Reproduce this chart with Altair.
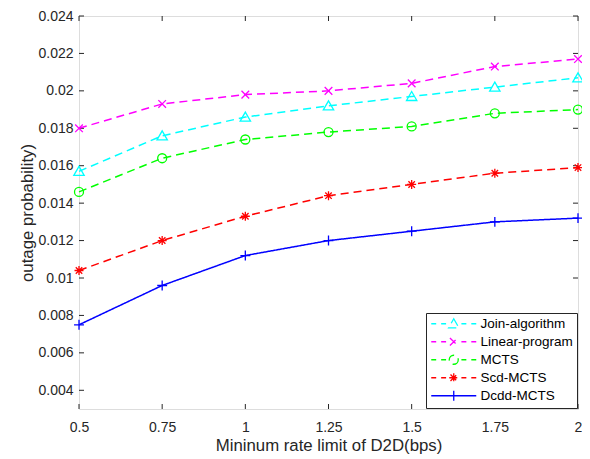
import altair as alt
import pandas as pd

# ---- data ----
rate = [0.5, 0.75, 1.0, 1.25, 1.5, 1.75, 2.0]
series_names = ["Join-algorithm", "Linear-program", "MCTS", "Scd-MCTS", "Dcdd-MCTS"]
join_algorithm = [0.0157, 0.0176, 0.0186, 0.0192, 0.0197, 0.0202, 0.0207]
linear_program = [0.0180, 0.0193, 0.0198, 0.0200, 0.0204, 0.0213, 0.0217]
mcts = [0.0146, 0.0164, 0.0174, 0.0178, 0.0181, 0.0188, 0.0190]
scd_mcts = [0.0104, 0.0120, 0.0133, 0.0144, 0.0150, 0.0156, 0.0159]
dcdd_mcts = [0.0075, 0.0096, 0.0112, 0.0120, 0.0125, 0.0130, 0.0132]
x_ticks = [0.5, 0.75, 1.0, 1.25, 1.5, 1.75, 2.0]
y_ticks = [0.004, 0.006, 0.008, 0.010, 0.012, 0.014, 0.016, 0.018, 0.020, 0.022, 0.024]

colors = ["#00FFFF", "#FF00FF", "#00FF00", "#FF0000", "#0000FF"]
dashes = [[8, 5], [8, 5], [8, 5], [8, 5], [1, 0]]

markers = [
    "M0,-1.1L1.15,0.9L-1.15,0.9Z",
    "M-0.85,-0.85L0.85,0.85M-0.85,0.85L0.85,-0.85",
    "M1,0A1,1,0,1,1,-1,0A1,1,0,1,1,1,0Z",
    "M-1,0L1,0M0,-1L0,1M-0.72,-0.72L0.72,0.72M-0.72,0.72L0.72,-0.72",
    "M-1.1,0L1.1,0M0,-1.1L0,1.1",
]
dash_line = "M-5,0L-3.9,0M-2.8,0L-1.7,0M1.7,0L2.8,0M3.9,0L5,0"
solid_line = "M-5,0L5,0"
legend_paths = [
    (solid_line if d == [1, 0] else dash_line) + m for m, d in zip(markers, dashes)
]

values = [join_algorithm, linear_program, mcts, scd_mcts, dcdd_mcts]
rows = []
for name, vals in zip(series_names, values):
    for r, v in zip(rate, vals):
        rows.append({"rate": r, "prob": v, "series": name})
df = pd.DataFrame(rows)

W, H = 499, 393
FONT = "Liberation Sans"
AX = "#262626"

xscale = alt.Scale(domain=[0.5, 2.0], nice=False, zero=False)
yscale = alt.Scale(domain=[0.003, 0.024], nice=False, zero=False)

common_axis = dict(grid=False, domain=False, ticks=False, labelFlush=False,
                   labelOverlap=False, labelExpr="format(datum.value, '~g')",
                   labelFontSize=14, titleFontSize=16.8, labelFont=FONT, titleFont=FONT,
                   labelColor=AX, titleColor=AX, titleFontWeight="normal")
xaxis = alt.Axis(values=x_ticks, title="Mininum rate limit of D2D(bps)",
                 labelPadding=11, titlePadding=3, **common_axis)
yaxis = alt.Axis(values=y_ticks, title="outage probability)",
                 labelPadding=6, titleX=-43, titleY=H / 2, titleBaseline="bottom",
                 **common_axis)

leg = alt.Legend(orient="bottom-right", title=None, offset=1, padding=4,
                 strokeColor=AX, fillColor="white", labelFont=FONT, labelFontSize=13.5,
                 labelColor="black", symbolSize=81, symbolStrokeWidth=1.3,
                 symbolOffset=17, labelOffset=20, rowPadding=3, cornerRadius=0)

color = alt.Color("series:N", scale=alt.Scale(domain=series_names, range=colors), legend=leg)
X = alt.X("rate:Q", scale=xscale, axis=xaxis)
Y = alt.Y("prob:Q", scale=yscale, axis=yaxis)

base = alt.Chart(df)
lines = base.mark_line(strokeWidth=1.5).encode(
    x=X, y=Y, color=color,
    strokeDash=alt.StrokeDash("series:N", scale=alt.Scale(domain=series_names, range=dashes), legend=None),
)

point_layers = []
for name, m in zip(series_names, markers):
    point_layers.append(
        base.transform_filter(alt.datum.series == name)
        .mark_point(shape=m, filled=False, size=81, strokeWidth=1.3, opacity=1)
        .encode(x=X, y=Y, color=color)
    )

legend_layer = base.mark_point(filled=False, size=0, opacity=1).encode(
    x=X, y=Y, color=color,
    shape=alt.Shape("series:N", scale=alt.Scale(domain=series_names, range=legend_paths), legend=leg),
)

xt = pd.DataFrame({"v": x_ticks})
yt = pd.DataFrame({"v": y_ticks})
tick_style = dict(color=AX, strokeWidth=1)
xt_bottom = alt.Chart(xt).mark_rule(**tick_style).encode(
    x=alt.X("v:Q", scale=xscale, axis=xaxis), y=alt.value(H), y2=alt.value(H - 5))
xt_top = alt.Chart(xt).mark_rule(**tick_style).encode(
    x=alt.X("v:Q", scale=xscale, axis=xaxis), y=alt.value(0), y2=alt.value(5))
yt_left = alt.Chart(yt).mark_rule(**tick_style).encode(
    y=alt.Y("v:Q", scale=yscale, axis=yaxis), x=alt.value(0), x2=alt.value(5))
yt_right = alt.Chart(yt).mark_rule(**tick_style).encode(
    y=alt.Y("v:Q", scale=yscale, axis=yaxis), x=alt.value(W), x2=alt.value(W - 5))

chart = alt.layer(
    xt_bottom, xt_top, yt_left, yt_right, lines, *point_layers, legend_layer
).properties(
    width=W, height=H,
    autosize=alt.AutoSizeParams(type="none"),
    padding={"left": 71, "top": 8, "right": 4, "bottom": 50},
).configure_view(stroke=AX, strokeWidth=1).configure(background="white")

chart.save("out.html", embed_options={"renderer": "svg", "actions": False})
